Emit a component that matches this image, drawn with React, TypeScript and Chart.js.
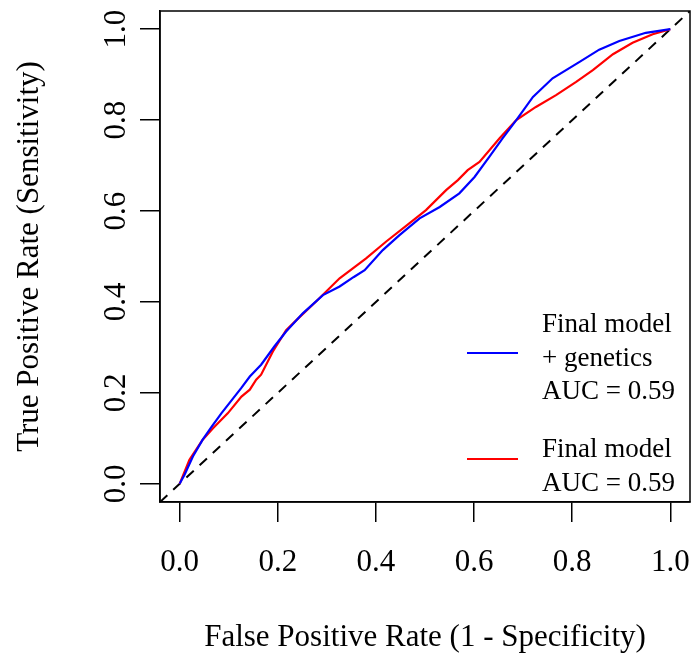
import { useEffect, useRef } from "react";
import { Chart, registerables } from "chart.js";

Chart.register(...registerables);

// ---- data ----
const xTickValues = [0, 0.2, 0.4, 0.6, 0.8, 1.0];
const yTickValues = [0, 0.2, 0.4, 0.6, 0.8, 1.0];
const axisMin = -0.04;
const axisMax = 1.04;

const xTitle = "False Positive Rate (1 - Specificity)";
const yTitle = "True Positive Rate (Sensitivity)";

// Final model + genetics (blue)
const geneticsFPR = [
  0, 0.01, 0.027, 0.047, 0.065, 0.085, 0.109, 0.125, 0.143, 0.166, 0.193, 0.217,
  0.251, 0.292, 0.326, 0.355, 0.377, 0.414, 0.448, 0.489, 0.53, 0.57, 0.601,
  0.631, 0.658, 0.686, 0.72, 0.76, 0.815, 0.855, 0.896, 0.95, 1,
];
const geneticsTPR = [
  0, 0.02, 0.06, 0.097, 0.125, 0.155, 0.188, 0.21, 0.236, 0.262, 0.302, 0.335,
  0.375, 0.415, 0.434, 0.455, 0.47, 0.514, 0.547, 0.584, 0.609, 0.639, 0.675,
  0.719, 0.76, 0.8, 0.851, 0.892, 0.928, 0.955, 0.974, 0.992, 1,
];

// Final model (red)
const baseFPR = [
  0, 0.02, 0.047, 0.068, 0.098, 0.126, 0.143, 0.156, 0.166, 0.19, 0.217, 0.238,
  0.278, 0.326, 0.38, 0.421, 0.468, 0.502, 0.543, 0.567, 0.587, 0.611, 0.652,
  0.686, 0.726, 0.767, 0.808, 0.842, 0.883, 0.923, 0.964, 1,
];
const baseTPR = [
  0, 0.053, 0.097, 0.122, 0.155, 0.192, 0.207, 0.229, 0.24, 0.291, 0.338, 0.36,
  0.401, 0.452, 0.496, 0.533, 0.573, 0.602, 0.646, 0.668, 0.69, 0.708, 0.76,
  0.8, 0.829, 0.855, 0.884, 0.91, 0.945, 0.97, 0.989, 1,
];

const diagonalX = [axisMin, axisMax];
const diagonalY = [axisMin, axisMax];

const geneticsLegend = ["Final model", "+ genetics", "AUC = 0.59"];
const baseLegend = ["Final model", "AUC = 0.59"];

const FONT = "'Liberation Serif', 'Times New Roman', Times, serif";
const AXIS_FS = 31;
const LEGEND_FS = 27;

const toPoints = (xs: number[], ys: number[]) => xs.map((x, i) => ({ x, y: ys[i] }));

const boxPlugin = {
  id: "box",
  afterDatasetsDraw(chart: any) {
    const { ctx, chartArea } = chart;
    ctx.save();
    ctx.strokeStyle = "#000";
    ctx.lineWidth = 1.5;
    ctx.strokeRect(chartArea.left, chartArea.top, chartArea.right - chartArea.left, chartArea.bottom - chartArea.top);
    ctx.restore();
  },
};

const legendPlugin = {
  id: "rocLegend",
  afterDatasetsDraw(chart: any) {
    const { ctx, chartArea } = chart;
    const items = [
      { ds: chart.data.datasets[0], lines: geneticsLegend, lineY: 353, firstBase: 332 },
      { ds: chart.data.datasets[1], lines: baseLegend, lineY: 459, firstBase: 457 },
    ];
    const lx0 = chartArea.right - 223;
    const lx1 = chartArea.right - 172;
    const tx = chartArea.right - 148;
    const lh = 33.5;
    ctx.save();
    ctx.font = `${LEGEND_FS}px ${FONT}`;
    ctx.fillStyle = "#000";
    ctx.textBaseline = "alphabetic";
    ctx.textAlign = "left";
    for (const it of items) {
      ctx.strokeStyle = it.ds.borderColor;
      ctx.lineWidth = 2;
      ctx.beginPath();
      ctx.moveTo(lx0, it.lineY);
      ctx.lineTo(lx1, it.lineY);
      ctx.stroke();
      it.lines.forEach((t: string, i: number) => {
        ctx.fillText(t, tx, it.firstBase + i * lh);
      });
    }
    ctx.restore();
  },
};

export default function App() {
  const ref = useRef<HTMLCanvasElement | null>(null);

  useEffect(() => {
    document.body.style.margin = "0";
    document.body.style.overflow = "hidden";
    const canvas = ref.current!;
    const chart = new Chart(canvas, {
      type: "line",
      data: {
        datasets: [
          {
            label: geneticsLegend.join(" "),
            data: toPoints(geneticsFPR, geneticsTPR),
            borderColor: "#0000ff",
            borderWidth: 2.2,
            pointRadius: 0,
            tension: 0,
            fill: false,
            order: 1,
          },
          {
            label: baseLegend.join(" "),
            data: toPoints(baseFPR, baseTPR),
            borderColor: "#ff0000",
            borderWidth: 2.2,
            pointRadius: 0,
            tension: 0,
            fill: false,
            order: 2,
          },
          {
            label: "chance",
            data: toPoints(diagonalX, diagonalY),
            borderColor: "#000000",
            borderWidth: 2,
            borderDash: [10, 8],
            pointRadius: 0,
            fill: false,
            order: 3,
          },
        ],
      },
      options: {
        animation: false,
        responsive: false,
        devicePixelRatio: 1,
        parsing: false as any,
        layout: { padding: { top: 11, right: 3, bottom: 0, left: 0 } },
        plugins: {
          legend: { display: false },
          tooltip: { enabled: false },
        },
        scales: {
          x: {
            type: "linear",
            min: axisMin,
            max: axisMax,
            afterBuildTicks: (scale: any) => {
              scale.ticks = xTickValues.map((v) => ({ value: v }));
            },
            afterFit: (scale: any) => {
              scale.height = 156;
              scale.paddingLeft = 0;
              scale.paddingRight = 0;
              scale.paddingTop = 0;
              scale.paddingBottom = 0;
            },
            grid: { drawOnChartArea: false, drawTicks: true, tickLength: 20, color: "#000", lineWidth: 1.5 },
            border: { display: true, color: "#000", width: 1.5 },
            ticks: {
              autoSkip: false,
              maxRotation: 0,
              minRotation: 0,
              padding: 22,
              color: "#000",
              font: { family: FONT, size: AXIS_FS },
              callback: (v: any) => Number(v).toFixed(1),
            },
            title: {
              display: true,
              text: xTitle,
              color: "#000",
              font: { family: FONT, size: AXIS_FS },
              padding: { top: 0, bottom: 2 },
            },
          },
          y: {
            type: "linear",
            min: axisMin,
            max: axisMax,
            afterBuildTicks: (scale: any) => {
              scale.ticks = yTickValues.map((v) => ({ value: v }));
            },
            afterFit: (scale: any) => {
              scale.width = 160;
              scale.paddingLeft = 0;
              scale.paddingRight = 0;
              scale.paddingTop = 0;
              scale.paddingBottom = 0;
            },
            grid: { drawOnChartArea: false, drawTicks: true, tickLength: 20, color: "#000", lineWidth: 1.5 },
            border: { display: true, color: "#000", width: 1.5 },
            ticks: {
              autoSkip: false,
              minRotation: 90,
              maxRotation: 90,
              crossAlign: "center",
              padding: 4,
              color: "#000",
              font: { family: FONT, size: AXIS_FS },
              callback: (v: any) => Number(v).toFixed(1),
            },
            title: {
              display: true,
              text: yTitle,
              color: "#000",
              font: { family: FONT, size: AXIS_FS },
              padding: { top: 11, bottom: 0 },
            },
          },
        },
      } as any,
      plugins: [boxPlugin, legendPlugin],
    });
    return () => chart.destroy();
  }, []);

  return <canvas ref={ref} width={693} height={658} style={{ display: "block" }} />;
}
